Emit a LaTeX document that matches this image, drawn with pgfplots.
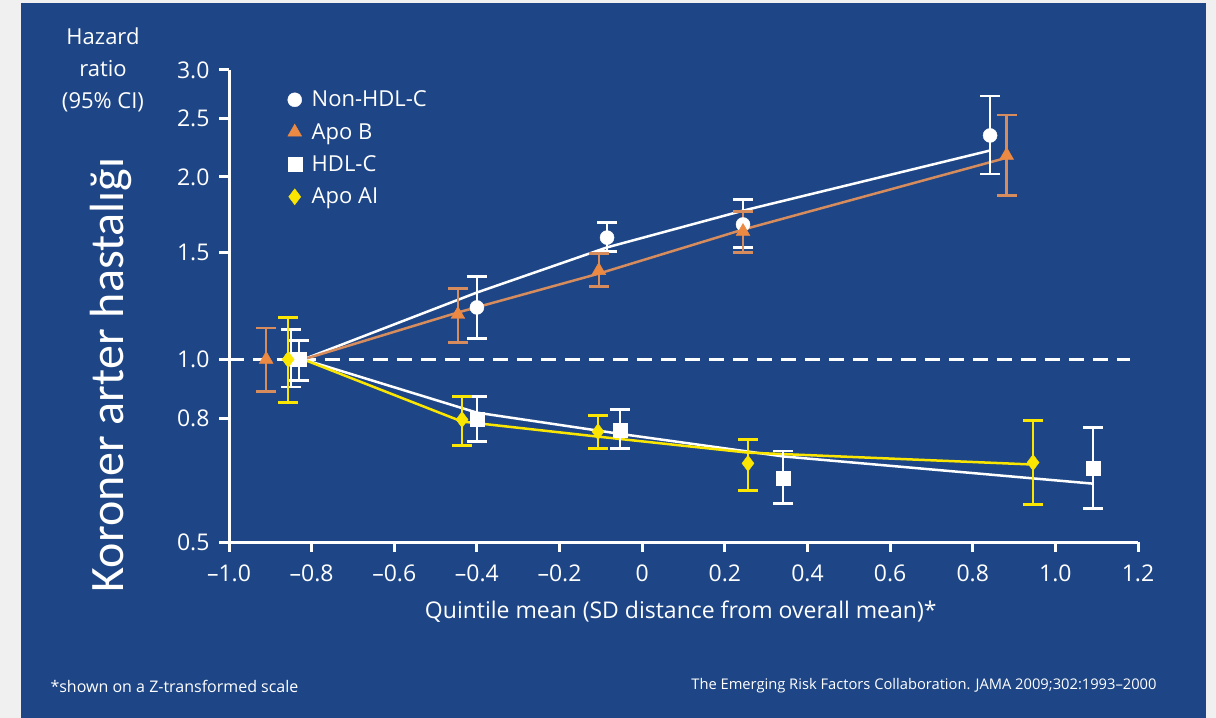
\documentclass[border=0pt]{standalone}
\usepackage{pgfplots}
\usepackage{pgfplotstable}
\pgfplotsset{compat=1.18}
\usepackage{fontspec}
\setmainfont{Open Sans}
\newfontfamily\carlito{Carlito}
\definecolor{panel}{RGB}{30,70,134}
\definecolor{bggray}{RGB}{240,240,240}
\definecolor{apob}{RGB}{236,137,66}
\definecolor{apobline}{RGB}{214,140,92}
\definecolor{apoai}{RGB}{250,230,0}

\pgfplotstableread{
x y ep em
-0.85 1.000 0.120 0.100
-0.40 1.218 0.152 0.135
-0.085 1.588 0.093 0.082
0.244 1.669 0.166 0.140
0.842 2.340 0.380 0.320
}\nonhdl
\pgfplotstableread{
x y ep em
-0.91 1.000 0.127 0.115
-0.446 1.186 0.122 0.120
-0.105 1.401 0.093 0.082
0.244 1.625 0.128 0.125
0.882 2.170 0.360 0.307
}\apob
\pgfplotstableread{
x y ep em
-0.83 1.000 0.074 0.077
-0.40 0.798 0.070 0.066
-0.054 0.763 0.064 0.050
0.341 0.636 0.071 0.057
1.091 0.661 0.111 0.093
}\hdl
\pgfplotstableread{
x y ep em
-0.857 1.000 0.172 0.151
-0.436 0.796 0.072 0.075
-0.107 0.760 0.048 0.047
0.256 0.674 0.064 0.066
0.946 0.676 0.117 0.100
}\apoai

\begin{document}
\begin{tikzpicture}
\fill[bggray] (0bp,0bp) rectangle (1216bp,718bp);
\fill[panel] (21bp,0bp) rectangle (1206bp,715bp);

\node[text=white, align=center, font=\fontsize{22bp}{32bp}\selectfont] at (103bp,648bp) {Hazard\\ratio\\(95\% CI)};
\node[text=white, rotate=90, font=\carlito\fontsize{48bp}{54bp}\selectfont] at (111bp,343bp) {Koroner arter hastalığı};
\node[text=white, anchor=west, font=\fontsize{16bp}{18bp}\selectfont] at (47bp,32bp) {*shown on a Z-transformed scale};
\node[text=white, anchor=east, font=\fontsize{14.7bp}{17bp}\selectfont] at (1160bp,32bp) {The Emerging Risk Factors Collaboration. JAMA 2009;302:1993–2000};

\begin{axis}[
  at={(229bp,176bp)}, anchor=south west,
  scale only axis, width=909bp, height=472bp,
  xmin=-1, xmax=1.2, ymin=0.5, ymax=3, ymode=log,
  axis lines=left,
  axis line style={white, line width=3bp, -},
  xtick={-1,-0.8,-0.6,-0.4,-0.2,0,0.2,0.4,0.6,0.8,1.0,1.2},
  xticklabels={–1.0,–0.8,–0.6,–0.4,–0.2,0,0.2,0.4,0.6,0.8,1.0,1.2},
  ytick={0.5,0.8,1,1.5,2,2.5,3},
  yticklabels={0.5,0.8,1.0,1.5,2.0,2.5,3.0},
  minor xtick={}, minor ytick={},
  tick align=outside, major tick length=10bp,
  tick style={white, line width=3bp},
  ticklabel style={text=white, font=\fontsize{23bp}{27bp}\selectfont},
  yticklabel style={xshift=-6bp},
  xticklabel style={yshift=-9bp},
  clip=false,
  xlabel={Quintile mean (SD distance from overall mean)*},
  xlabel style={text=white, font=\fontsize{23bp}{27bp}\selectfont, at={(axis description cs:0.497,0)}, anchor=center, yshift=-70bp},
  legend style={at={(0.0644,0.960)}, anchor=north west, draw=none, fill=none, text=white,
    font=\fontsize{22bp}{26bp}\selectfont, row sep=11bp, column sep=8bp, inner sep=0pt, cells={anchor=west}},
  error bars/y dir=both, error bars/y explicit,
]
% reference line
\addplot[white, line width=3.5bp, dash pattern=on 15bp off 9bp, forget plot] coordinates {(-1,1) (1.18,1)};
% fitted lines
\addplot[white, line width=2.5bp, forget plot] coordinates {(-0.82,1.0) (-0.40,1.289) (-0.085,1.53) (0.244,1.759) (0.842,2.21)};
\addplot[apobline, line width=2.5bp, forget plot] coordinates {(-0.82,1.0) (-0.446,1.195) (-0.105,1.385) (0.244,1.637) (0.882,2.15)};
\addplot[white, line width=2.5bp, forget plot] coordinates {(-0.82,1.0) (-0.40,0.817) (-0.054,0.754) (0.341,0.692) (1.091,0.624)};
\addplot[apoai, line width=2.5bp, forget plot] coordinates {(-0.82,1.0) (-0.436,0.79) (-0.107,0.746) (0.256,0.702) (0.946,0.671)};
% points
\addplot[only marks, mark=*, mark size=7bp, mark options={fill=white, draw=white},
  error bars/error bar style={white, line width=2.5bp},
  error bars/error mark options={rotate=90, mark size=10bp, line width=2.5bp, white}]
  table[x=x, y=y, y error plus=ep, y error minus=em] {\nonhdl};
\addlegendentry{Non-HDL-C}
\addplot[only marks, mark=triangle*, mark size=8bp, mark options={fill=apob, draw=apob},
  error bars/error bar style={apobline, line width=2.5bp},
  error bars/error mark options={rotate=90, mark size=10bp, line width=2.5bp, apobline}]
  table[x=x, y=y, y error plus=ep, y error minus=em] {\apob};
\addlegendentry{Apo B}
\addplot[only marks, mark=square*, mark size=7bp, mark options={fill=white, draw=white},
  error bars/error bar style={white, line width=2.5bp},
  error bars/error mark options={rotate=90, mark size=10bp, line width=2.5bp, white}]
  table[x=x, y=y, y error plus=ep, y error minus=em] {\hdl};
\addlegendentry{HDL-C}
\addplot[only marks, mark=diamond*, mark size=8bp, mark options={fill=apoai, draw=apoai},
  error bars/error bar style={apoai, line width=2.5bp},
  error bars/error mark options={rotate=90, mark size=10bp, line width=2.5bp, apoai}]
  table[x=x, y=y, y error plus=ep, y error minus=em] {\apoai};
\addlegendentry{Apo AI}
\end{axis}
\end{tikzpicture}
\end{document}
